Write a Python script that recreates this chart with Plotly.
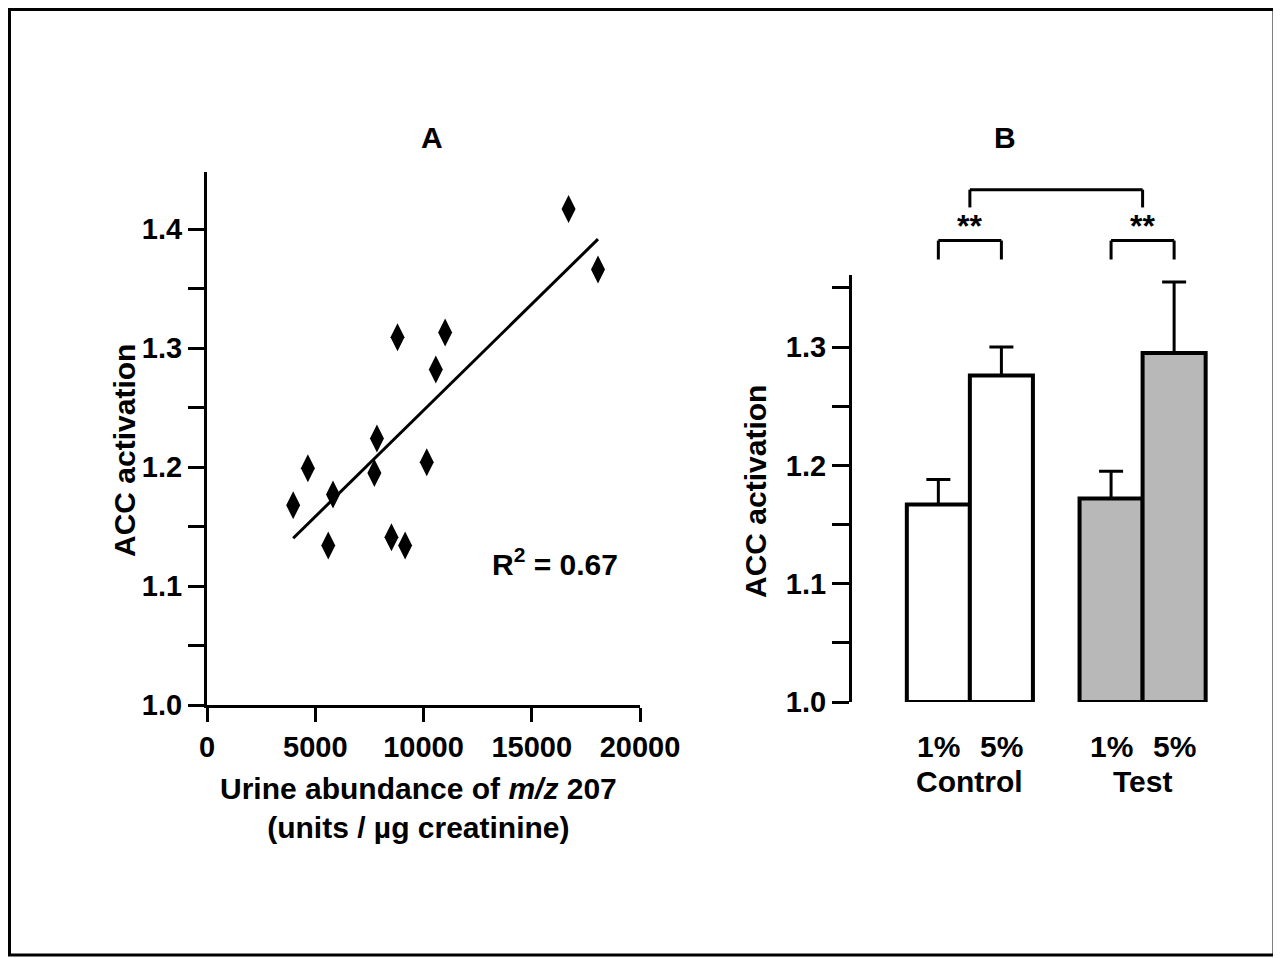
import numpy as np
import plotly.graph_objects as go

# ---------------- Panel A data ----------------
abundance = [3980, 4660, 5820, 5600, 7850, 7730, 8800, 8520, 9150, 10150, 10570, 11000, 16700, 18060]
acc_a = [1.168, 1.199, 1.177, 1.134, 1.224, 1.195, 1.309, 1.141, 1.134, 1.204, 1.282, 1.313, 1.417, 1.366]
r2_label = "R<sup>2</sup> = 0.67"
xa_ticks = [0, 5000, 10000, 15000, 20000]
xa_ticktext = ["0", "5000", "10000", "15000", "20000"]
ya_ticks = [1.0, 1.05, 1.1, 1.15, 1.2, 1.25, 1.3, 1.35, 1.4]
ya_ticktext = ["1.0", "", "1.1", "", "1.2", "", "1.3", "", "1.4"]

# ---------------- Panel B data ----------------
groups = ["Control", "Test"]
diets = ["1%", "5%"]
acc_1pct = [1.167, 1.172]
acc_5pct = [1.276, 1.295]
sem_1pct = [0.021, 0.023]
sem_5pct = [0.024, 0.060]
group_colors = ["#ffffff", "#b8b8b8"]
yb_ticks = [1.0, 1.05, 1.1, 1.15, 1.2, 1.25, 1.3, 1.35]
yb_ticktext = ["1.0", "", "1.1", "", "1.2", "", "1.3", ""]
signif = "**"

# the page places the figure 8 px in from the top-left corner of the window
OFF = 8
W, H = 1281 - OFF, 958 - OFF
FONT = "Liberation Sans, Arial, Helvetica, sans-serif"


def px(x):
    return (x - OFF) / W


def py(y):
    return 1 - (y - OFF) / H


# layout geometry
ya_dom = [py(705), py(172)]
ya_rng = [1.0, 1.448]
yb_dom = [py(702), py(275)]
yb_rng = [1.0, 1.3609]
xb_dom = [px(850), px(1230)]
xb_rng = [-0.694, 1.506]
bargap = 0.27
bar_off = (1 - bargap) / 4


def yb_paper(v):
    return yb_dom[0] + (v - yb_rng[0]) / (yb_rng[1] - yb_rng[0]) * (yb_dom[1] - yb_dom[0])


def xb_paper(v):
    return xb_dom[0] + (v - xb_rng[0]) / (xb_rng[1] - xb_rng[0]) * (xb_dom[1] - xb_dom[0])


fig = go.Figure()

# scatter points
fig.add_trace(go.Scatter(
    x=abundance, y=acc_a, mode="markers",
    marker=dict(symbol="diamond-tall", size=20, color="black"),
    xaxis="x", yaxis="y", showlegend=False, cliponaxis=False,
))

# regression line
slope, intercept = np.polyfit(abundance, acc_a, 1)
xl = np.array([min(abundance), max(abundance)])
fig.add_trace(go.Scatter(
    x=xl, y=slope * xl + intercept, mode="lines",
    line=dict(color="black", width=3),
    xaxis="x", yaxis="y", showlegend=False,
))

# bars
for k, (vals, errs) in enumerate([(acc_1pct, sem_1pct), (acc_5pct, sem_5pct)]):
    fig.add_trace(go.Bar(
        x=groups, y=[v - 1.0 for v in vals], base=1.0,
        marker=dict(color=group_colors, line=dict(color="black", width=4)),
        error_y=dict(type="data", array=errs, arrayminus=[0] * len(errs), symmetric=False,
                     color="black", thickness=3, width=12),
        xaxis="x2", yaxis="y2", name=diets[k], showlegend=False,
    ))

axis_common = dict(
    showline=True, linecolor="black", linewidth=3, ticks="outside", tickcolor="black",
    tickwidth=3, showgrid=False, zeroline=False, automargin=False,
    tickfont=dict(family=FONT, size=29, color="black", weight="bold"),
)

fig.update_layout(
    width=W, height=H, autosize=False, margin=dict(l=0, r=0, t=0, b=0, pad=0),
    paper_bgcolor="white", plot_bgcolor="white",
    barmode="group", bargap=bargap, bargroupgap=0,
    showlegend=False,
    xaxis=dict(domain=[px(207), px(640)], range=[0, 20000], anchor="y",
               tickvals=xa_ticks, ticktext=xa_ticktext, ticklen=14, **axis_common),
    yaxis=dict(domain=ya_dom, range=ya_rng, anchor="x",
               tickvals=ya_ticks, ticktext=ya_ticktext, ticklen=16, **axis_common),
    xaxis2=dict(domain=xb_dom, range=xb_rng, anchor="y2", type="category", automargin=False,
                showline=False, showticklabels=False, ticks="", showgrid=False, zeroline=False),
    yaxis2=dict(domain=yb_dom, range=yb_rng, anchor="free", position=px(850),
                tickvals=yb_ticks, ticktext=yb_ticktext, ticklen=17, **axis_common),
)

ann = []
tfont = dict(family=FONT, size=30, color="black", weight="bold")


def note(text, x, y, **kw):
    d = dict(text=text, x=x, y=y, xref="paper", yref="paper", showarrow=False,
             xanchor="center", yanchor="middle", font=kw.pop("font", tfont))
    d.update(kw)
    return d


# panel titles
ann.append(note("A", px(432), py(138)))
ann.append(note("B", px(1005), py(138)))
# axis titles
ann.append(note("ACC activation", px(124), py(451), textangle=-90))
ann.append(note("ACC activation", px(755), py(491), textangle=-90))
ann.append(note("Urine abundance of <i>m/z</i> 207<br>(units / \u00b5g creatinine)",
                px(418), py(808), align="center"))
# R^2
ann.append(note(r2_label, px(555), py(562)))
# panel B category labels
for gi, g in enumerate(groups):
    for k, d in enumerate(diets):
        ann.append(note(d, xb_paper(gi + (2 * k - 1) * bar_off), py(746)))
    ann.append(note(g, xb_paper(gi), py(781)))

shapes = []
line_style = dict(color="black", width=3)


def seg(x0, y0, x1, y1):
    return dict(type="line", xref="paper", yref="paper",
                x0=xb_paper(x0), x1=xb_paper(x1), y0=yb_paper(y0), y1=yb_paper(y1), line=line_style)


def bracket(x0, x1, ytop, ybot):
    return [seg(x0, ytop, x1, ytop), seg(x0, ytop, x0, ybot), seg(x1, ytop, x1, ybot)]


for gi in range(len(groups)):
    shapes += bracket(gi - bar_off, gi + bar_off, 1.390, 1.374)
    ann.append(note(signif, xb_paper(gi), yb_paper(1.402),
                    font=dict(family=FONT, size=32, color="black", weight="bold")))
shapes += bracket(0, len(groups) - 1, 1.433, 1.418)

# outer frame
shapes.append(dict(type="rect", xref="paper", yref="paper", x0=px(9.5), x1=px(1274), y0=py(955), y1=py(9.5),
                   line=dict(color="black", width=3), fillcolor="rgba(0,0,0,0)"))

fig.update_layout(annotations=ann, shapes=shapes)

fig.write_html("out.html", config={"displayModeBar": False})
